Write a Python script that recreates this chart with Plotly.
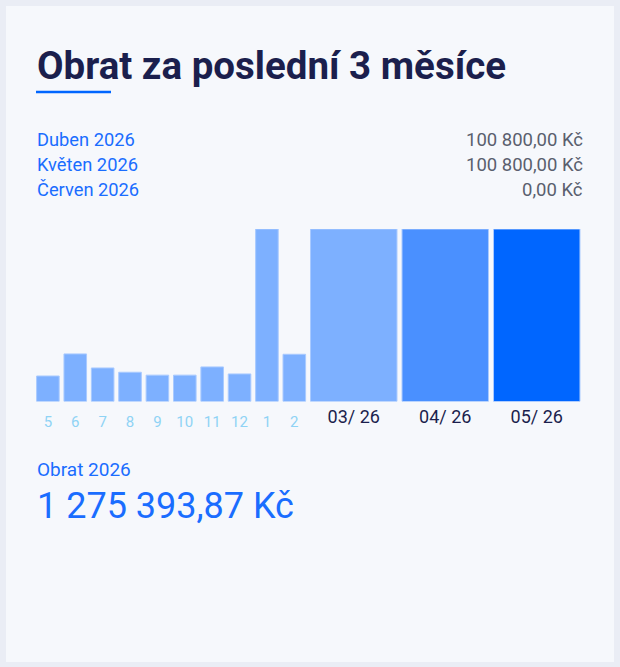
import plotly.graph_objects as go

W, H = 620, 667

# ---- data ----
hist_labels = ["5", "6", "7", "8", "9", "10", "11", "12", "1", "2"]
hist_values = [14.9, 27.8, 19.6, 17.1, 15.4, 15.4, 20.2, 16.1, 100.8, 27.6]  # tis. Kč
recent_labels = ["03/ 26", "04/ 26", "05/ 26"]
recent_values = [100.8, 100.8, 100.8]
recent_colors = ["#7db0ff", "#4a90ff", "#0066ff"]

summary_months = ["Duben 2026", "Květen 2026", "Červen 2026"]
summary_amounts = ["100 800,00 Kč", "100 800,00 Kč", "0,00 Kč"]
title_text = "Obrat za poslední 3 měsíce"
total_label = "Obrat 2026"
total_value = "1 275 393,87 Kč"

FONT = "Roboto"
NAVY = "#1b1f4d"
BLUE = "#1a6dff"


def px(x):
    return x / W


def py(y):
    return 1 - y / H


fig = go.Figure()

fig.add_trace(go.Bar(
    x=hist_labels, y=hist_values, xaxis="x", yaxis="y",
    width=0.825,
    marker=dict(color="#7db0ff", line=dict(color="#a9caff", width=1)),
    hoverinfo="skip", showlegend=False,
))
fig.add_trace(go.Bar(
    x=recent_labels, y=recent_values, xaxis="x2", yaxis="y",
    width=0.945,
    marker=dict(color=recent_colors, line=dict(color="#a9caff", width=1)),
    hoverinfo="skip", showlegend=False,
))

ydom = [py(401.5), py(229)]
fig.update_layout(
    width=W, height=H,
    margin=dict(l=0, r=0, t=0, b=0),
    paper_bgcolor="#eaedf5",
    plot_bgcolor="rgba(0,0,0,0)",
    font=dict(family=FONT),
    xaxis=dict(domain=[px(34.2), px(308)], anchor="y", type="category",
               showgrid=False, zeroline=False, showline=False, ticks="",
               ticklabelstandoff=9,
               tickfont=dict(family=FONT, size=15, color="#8fd3f5"),
               fixedrange=True),
    xaxis2=dict(domain=[px(308), px(582.5)], anchor="y", type="category",
                showgrid=False, zeroline=False, showline=False, ticks="",
                ticklabelstandoff=2,
                tickfont=dict(family=FONT, size=18, color=NAVY),
                fixedrange=True),
    yaxis=dict(domain=ydom, range=[0, 100.8], visible=False, fixedrange=True),
    shapes=[
        dict(type="rect", xref="paper", yref="paper", layer="below",
             x0=px(6), x1=px(614), y0=py(662), y1=py(6),
             fillcolor="#f6f8fc", line=dict(width=0)),
        dict(type="line", xref="paper", yref="paper",
             x0=px(36), x1=px(111), y0=py(92), y1=py(92),
             line=dict(color="#0066ff", width=2.5)),
    ],
)

ann = []
ann.append(dict(text=f"<b>{title_text}</b>", x=px(34.5), y=py(65), xanchor="left", yanchor="middle",
                font=dict(family=FONT, size=38.5, color=NAVY)))
rows_y = [139.7, 164.7, 189.7]
for m, a, yy in zip(summary_months, summary_amounts, rows_y):
    ann.append(dict(text=m, x=px(35), y=py(yy), xanchor="left", yanchor="middle",
                    font=dict(family=FONT, size=18.3, color=BLUE)))
    ann.append(dict(text=a, x=px(585), y=py(yy), xanchor="right", yanchor="middle",
                    font=dict(family=FONT, size=18.5, color="#5a5f6e")))
ann.append(dict(text=total_label, x=px(35), y=py(469.4), xanchor="left", yanchor="middle",
                font=dict(family=FONT, size=19, color=BLUE)))
ann.append(dict(text=total_value, x=px(35), y=py(506.3), xanchor="left", yanchor="middle",
                font=dict(family=FONT, size=36, color=BLUE)))
for a in ann:
    a.update(xref="paper", yref="paper", showarrow=False)
fig.update_layout(annotations=ann)

fig.write_html("out.html", config={"displayModeBar": False})
